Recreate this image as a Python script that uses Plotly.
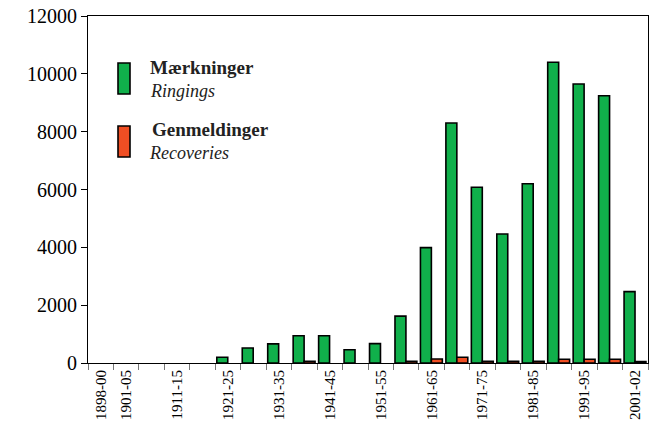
import plotly.graph_objects as go

categories = ["1898-00", "1901-05", "1906-10", "1911-15", "1916-20", "1921-25",
              "1926-30", "1931-35", "1936-40", "1941-45", "1946-50", "1951-55",
              "1956-60", "1961-65", "1966-70", "1971-75", "1976-80", "1981-85",
              "1986-90", "1991-95", "1996-00", "2001-02"]
ringings = [0, 0, 0, 0, 0, 200, 520, 660, 940, 940, 460, 670, 1620, 3990,
            8300, 6080, 4460, 6200, 10400, 9650, 9240, 2470]
recoveries = [0, 0, 0, 0, 0, 0, 0, 0, 60, 0, 0, 0, 60, 140,
              200, 60, 60, 60, 130, 130, 130, 50]
shown_labels = ["1898-00", "1901-05", "1911-15", "1921-25", "1931-35", "1941-45",
                "1951-55", "1961-65", "1971-75", "1981-85", "1991-95", "2001-02"]
y_ticks = [0, 2000, 4000, 6000, 8000, 10000, 12000]

GREEN = "#10b04b"
RED = "#f04e23"
SERIF = "Liberation Serif, Times New Roman, serif"

# zero-height bars are not drawn in the reference
ring_plot = [v if v > 0 else None for v in ringings]
rec_plot = [v if v > 0 else None for v in recoveries]

fig = go.Figure()
fig.add_trace(go.Bar(x=categories, y=ring_plot, name="Mærkninger",
                     marker=dict(color=GREEN, line=dict(color="black", width=1.6)),
                     offset=-0.44, width=0.43, showlegend=False))
fig.add_trace(go.Bar(x=categories, y=rec_plot, name="Genmeldinger",
                     marker=dict(color=RED, line=dict(color="black", width=1.6)),
                     offset=-0.01, width=0.43, showlegend=False))

ticktext = [c if c in shown_labels else "" for c in categories]

# body margin removed in post_script; plot area at x 88-648, y 16-363 of the page
fig.update_layout(
    width=650, height=424,
    margin=dict(l=88, r=2, t=16, b=61),
    paper_bgcolor="white", plot_bgcolor="white",
    font=dict(family=SERIF, color="black"),
    barmode="overlay",
    xaxis=dict(type="category", tickmode="array", tickvals=categories, ticktext=ticktext,
               tickson="boundaries", ticks="outside", ticklen=6, tickcolor="#777777",
               tickangle=-90, tickfont=dict(size=15, family=SERIF),
               showline=True, linecolor="black", linewidth=1.2, mirror=True,
               showgrid=False, range=[-0.5, 21.5], automargin=False),
    yaxis=dict(range=[0, 12000], tickmode="array", tickvals=y_ticks,
               ticktext=[str(v) for v in y_ticks],
               ticks="outside", ticklen=6, tickcolor="black",
               tickfont=dict(size=20, family=SERIF),
               showline=True, linecolor="black", linewidth=1.2, mirror=True,
               showgrid=False, zeroline=False, automargin=False),
)

# Legend drawn by hand (positions in page pixels, converted to paper fractions)
def px_x(x):
    return (x - 88) / 560

def px_y(y):
    return (363 - y) / 347

fig.add_shape(type="rect", xref="paper", yref="paper",
              x0=px_x(118), x1=px_x(130), y0=px_y(94), y1=px_y(63),
              fillcolor=GREEN, line=dict(color="black", width=1.6))
fig.add_shape(type="rect", xref="paper", yref="paper",
              x0=px_x(118), x1=px_x(130), y0=px_y(157), y1=px_y(126),
              fillcolor=RED, line=dict(color="black", width=1.6))

def ann(text, x, y, size, bold=False, italic=False):
    t = text
    if bold:
        t = "<b>" + t + "</b>"
    if italic:
        t = "<i>" + t + "</i>"
    fig.add_annotation(text=t, xref="paper", yref="paper",
                       x=px_x(x), y=px_y(y),
                       xanchor="left", yanchor="middle", showarrow=False,
                       font=dict(size=size, family=SERIF, color="#222222"))

ann("Mærkninger", 148, 67, 19, bold=True)
ann("Ringings", 148, 91, 18, italic=True)
ann("Genmeldinger", 150, 129, 19, bold=True)
ann("Recoveries", 147, 153, 18, italic=True)

fig.write_html("out.html",
               config={"displayModeBar": False},
               post_script="document.body.style.margin='0';document.body.style.overflow='hidden';")
